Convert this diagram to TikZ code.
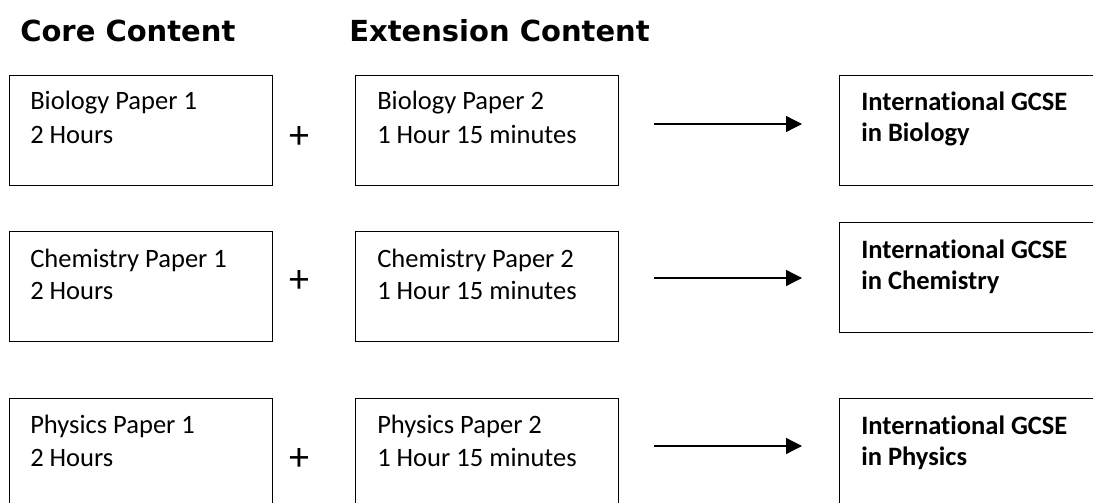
\documentclass[tikz,border=0pt]{standalone}
\usepackage{fontspec}
\setmainfont{Carlito}[Ligatures=NoCommon]
\newfontfamily\headfont{DejaVu Sans}
\usetikzlibrary{arrows.meta}
\tikzset{
  box/.style={draw, line width=1pt, inner sep=0pt, anchor=north west, minimum width=197.25pt, minimum height=82.5pt},
  widebox/.style={box, minimum width=200pt},
  txt/.style={anchor=base west, inner sep=0pt, font=\fontsize{19.9pt}{24pt}\selectfont},
  btxt/.style={txt, font=\fontsize{19.9pt}{24pt}\selectfont\bfseries},
  head/.style={anchor=base west, inner sep=0pt, font=\headfont\bfseries\fontsize{21.75pt}{26pt}\selectfont},
  plus/.style={inner sep=0pt, font=\fontsize{30pt}{36pt}\selectfont},
  conn/.style={line width=1pt, -{Triangle[length=12pt,width=12pt]}}
}
\begin{document}
\begin{tikzpicture}[x=0.75pt,y=-0.75pt]
\useasboundingbox (0,0) rectangle (1093,503);
\clip (0,0) rectangle (1093,503);
% headers
\node[head] (hcore) at (20,42) {Core Content};
\node[head] (hext) at (349,42) {Extension Content};
% row 1
\node[box] (b11) at (9,75) {};
\node[box] (b12) at (355,75) {};
\node[widebox] (b13) at (839,75) {};
\node[txt] (t11a) at ([shift={(21,35)}]b11.north west) {Biology Paper 1};
\node[txt] (t11b) at ([shift={(21,68)}]b11.north west) {2 Hours};
\node[txt] (t12a) at ([shift={(22,35)}]b12.north west) {Biology Paper 2};
\node[txt] (t12b) at ([shift={(22,68)}]b12.north west) {1 Hour 15 minutes};
\node[btxt] (t13a) at ([shift={(22,36)}]b13.north west) {International GCSE};
\node[btxt] (t13b) at ([shift={(22,67)}]b13.north west) {in Biology};
\node[plus] (p1) at (299,138) {+};
\coordinate (a1s) at (654,124);
\coordinate (a1e) at (802,124);
\draw[conn] (a1s) -- (a1e);
% row 2
\node[box] (b21) at (9,231) {};
\node[box] (b22) at (355,231) {};
\node[widebox] (b23) at (839,222) {};
\node[txt] (t21a) at ([shift={(21,36)}]b21.north west) {Chemistry Paper 1};
\node[txt] (t21b) at ([shift={(21,68)}]b21.north west) {2 Hours};
\node[txt] (t22a) at ([shift={(22,36)}]b22.north west) {Chemistry Paper 2};
\node[txt] (t22b) at ([shift={(22,68)}]b22.north west) {1 Hour 15 minutes};
\node[btxt] (t23a) at ([shift={(22,36)}]b23.north west) {International GCSE};
\node[btxt] (t23b) at ([shift={(22,67)}]b23.north west) {in Chemistry};
\node[plus] (p2) at (299,282) {+};
\coordinate (a2s) at (654,278);
\coordinate (a2e) at (802,278);
\draw[conn] (a2s) -- (a2e);
% row 3
\node[box] (b31) at (9,398) {};
\node[box] (b32) at (355,398) {};
\node[widebox] (b33) at (839,398) {};
\node[txt] (t31a) at ([shift={(21,35)}]b31.north west) {Physics Paper 1};
\node[txt] (t31b) at ([shift={(21,68)}]b31.north west) {2 Hours};
\node[txt] (t32a) at ([shift={(22,35)}]b32.north west) {Physics Paper 2};
\node[txt] (t32b) at ([shift={(22,68)}]b32.north west) {1 Hour 15 minutes};
\node[btxt] (t33a) at ([shift={(22,36)}]b33.north west) {International GCSE};
\node[btxt] (t33b) at ([shift={(22,67)}]b33.north west) {in Physics};
\node[plus] (p3) at (299,460) {+};
\coordinate (a3s) at (654,446);
\coordinate (a3e) at (802,446);
\draw[conn] (a3s) -- (a3e);
\end{tikzpicture}
\end{document}
